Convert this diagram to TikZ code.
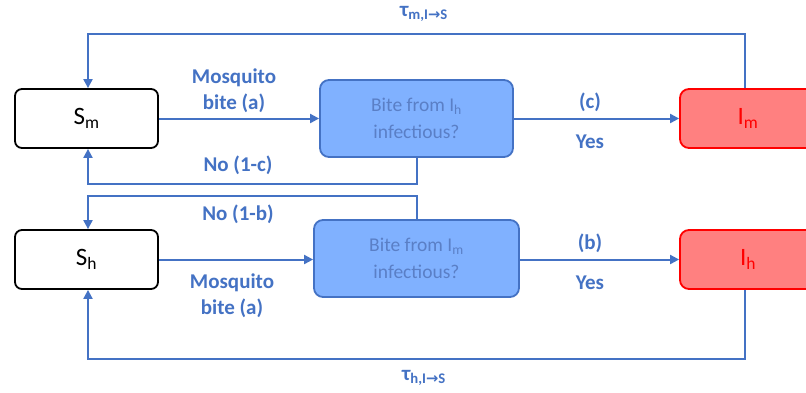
\documentclass[tikz,border=0pt]{standalone}
\usepackage{fontspec}
\setmainfont{Carlito}
\newfontfamily\djv{DejaVu Sans}
\usetikzlibrary{arrows.meta}
\definecolor{lblue}{HTML}{4472C4}
\definecolor{bfill}{HTML}{80B1FF}
\definecolor{btext}{HTML}{5A7FC6}
\definecolor{rfill}{HTML}{FF8080}
\definecolor{rline}{HTML}{FF0000}
\tikzset{
  sbox/.style={draw=black, line width=1.8pt, rounded corners=7pt, fill=white, minimum width=143pt, minimum height=59pt, inner sep=0pt, font=\fontsize{25}{28}\selectfont},
  qbox/.style={draw=lblue, line width=1.8pt, rounded corners=9pt, fill=bfill, minimum height=77pt, inner sep=0pt, align=center, text=btext, font=\fontsize{19.5}{27}\selectfont},
  ibox/.style={draw=rline, line width=1.8pt, rounded corners=9pt, fill=rfill, minimum width=136pt, minimum height=59pt, inner sep=0pt, text=rline, font=\fontsize{25}{28}\selectfont},
  flow/.style={draw=lblue, line width=2pt, -{Triangle[length=9pt,width=9pt]}},
  lab/.style={text=lblue, font=\bfseries\fontsize{21}{26}\selectfont, align=center, inner sep=0pt}
}
\begin{document}
\begin{tikzpicture}[x=1pt,y=-1pt]
\clip (0,0) rectangle (806,392);
\fill[white] (0,0) rectangle (806,392);
% nodes
\node[sbox] (Sm) at (86.5,118.5) {S\textsubscript{m}};
\node[qbox, minimum width=193pt] (B1) at (416.5,118.5) {Bite from I\textsubscript{h}\\infectious?};
\node[ibox] (Im) at (748,118.5) {I\textsubscript{m}};
\node[sbox] (Sh) at (86.5,259.5) {S\textsubscript{h}};
\node[qbox, minimum width=205pt] (B2) at (416.5,258.5) {Bite from I\textsubscript{m}\\infectious?};
\node[ibox] (Ih) at (748,259.5) {I\textsubscript{h}};
% connectors
\draw[flow] (Sm.east) -- (B1.west);
\draw[flow] (B1.east) -- (Im.west);
\draw[flow] ([xshift=-3pt]Im.north) -- ++(0,-54) -| ([xshift=1.5pt]Sm.north);
\draw[flow] (B1.south) -- ++(0,26) -| ([xshift=1.5pt]Sm.south);
\draw[flow] (Sh.east) -- (Sh.east -| B2.west);
\draw[flow] (B2.east |- Ih.west) -- (Ih.west);
\draw[flow] (B2.north) -- ++(0,-23) -| ([xshift=1.5pt]Sh.north);
\draw[flow] ([xshift=-3pt]Ih.south) -- ++(0,69) -| ([xshift=1.5pt]Sh.south);
% labels
\node[lab] (l1) at (234,91) {Mosquito\\bite (a)};
\node[lab] (l2) at (590,102) {(c)};
\node[lab] (l3) at (590,142) {Yes};
\node[lab] (l4) at (238,165) {No (1-c)};
\node[lab] (l5) at (238,214) {No (1-b)};
\node[lab] (l6) at (232,296) {Mosquito\\bite (a)};
\node[lab] (l7) at (590,243) {(b)};
\node[lab] (l8) at (590,283) {Yes};
\node[lab] (l9) at (424,14) {τ\textsubscript{m,I{\djv\bfseries →}S}};
\node[lab] (l10) at (424,378) {τ\textsubscript{h,I{\djv\bfseries →}S}};
\end{tikzpicture}
\end{document}
